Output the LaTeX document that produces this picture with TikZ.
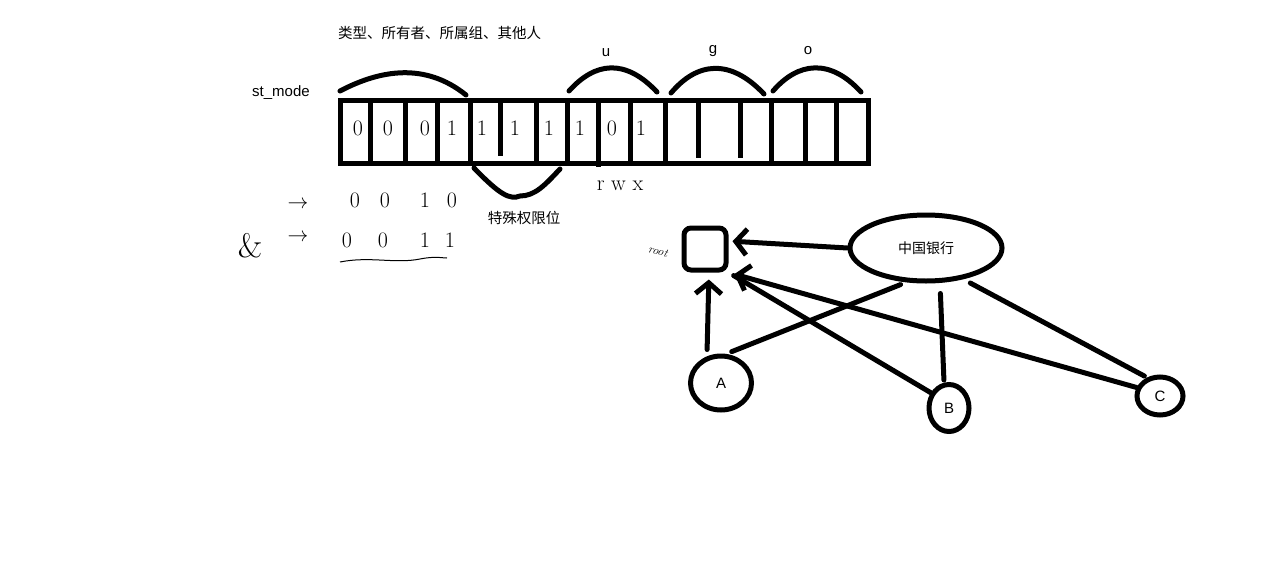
\documentclass[tikz,border=0pt]{standalone}
\usepackage{fontspec}
\setsansfont{Liberation Sans}
\newfontfamily\cjk{Noto Sans CJK SC}
\usetikzlibrary{shapes.geometric,arrows.meta,calc}
\begin{document}
\begin{tikzpicture}[x=1pt,y=-1pt,
  thickline/.style={line width=5pt,line cap=round},
  barline/.style={line width=5pt},
  brace/.style={line width=5pt,line cap=round},
  lbl/.style={font=\sffamily\fontsize{15}{15}\selectfont,inner sep=0pt},
  cjklbl/.style={font=\cjk\fontsize{14.5}{14.5}\selectfont,inner sep=0pt},
  hand/.style={font=\fontsize{22}{22}\selectfont,inner sep=0pt},
  arr/.style={line width=5pt,line cap=round,-{Straight Barb[length=11pt,width=26pt,line width=5pt]}},
  circ/.style={ellipse,draw,line width=5pt,inner sep=0pt,font=\sffamily\fontsize{15}{15}\selectfont},
]
\useasboundingbox (0,0) rectangle (1266,570);
\fill[white] (0,0) rectangle (1266,570);

% labels
\node[cjklbl,anchor=west] (title) at (338,33) {类型、所有者、所属组、其他人};
\node[lbl,anchor=west] (stmode) at (252,93) {st\_mode};
\node[lbl] (u) at (606,53) {u};
\node[lbl] (g) at (713,51) {g};
\node[lbl] (o) at (808,51) {o};

% bar
\draw[barline] (340,100) rectangle (868,163);
\foreach \x in {370,405,437,470,536,567,665,771,805,836}
  \draw[barline] (\x,100) -- (\x,163);
\draw[barline] (500,100) -- (500,156);
\draw[barline] (598,100) -- (598,167);
\draw[barline] (630,100) -- (630,165);
\draw[barline] (698,100) -- (698,158);
\draw[barline] (740,100) -- (740,158);

% arcs
\draw[brace] (340,91) .. controls (380,70) and (425,62) .. (466,95);
\draw[brace] (569,91) .. controls (595,62) and (625,58) .. (657,92);
\draw[brace] (671,93) .. controls (697,62) and (730,58) .. (764,94);
\draw[brace] (773,91) .. controls (798,62) and (830,58) .. (861,92);
\draw[brace] (474,168) .. controls (500,195) and (510,200) .. (520,196) .. controls (535,196) and (545,185) .. (560,169);
\node[cjklbl] (special) at (524,218) {特殊权限位};

% handwritten digits in cells
\foreach \x/\d in {358/0,388/0,425/0,452/1,482/1,515/1,549/1,580/1,612/0,641/1}
  \node[hand] at (\x,128) {\d};
\node[hand] (rwx) at (620,186) {r w x};

% handwritten rows
\node[hand] (ar1) at (298,205) {$\rightarrow$};
\node[hand] (ar2) at (298,238) {$\rightarrow$};
\node[hand] (amp) at (250,246) {\fontsize{34}{34}\selectfont\&};
\foreach \x/\d in {355/0,385/0,425/1,452/0}
  \node[hand] at (\x,200) {\d};
\foreach \x/\d in {347/0,383/0,425/1,450/1}
  \node[hand] at (\x,240) {\d};
\draw[line width=1pt] (340,262) .. controls (370,256) and (395,264) .. (420,259) .. controls (435,256) and (442,258) .. (447,258);

% graph
\node[draw,line width=5pt,rounded corners=7pt,minimum size=42pt,inner sep=0pt] (root) at (705,249) {};
\node[font=\fontsize{12}{12}\selectfont\itshape,rotate=-15,inner sep=0pt] (rootlbl) at (658,251) {root};
\node[circ,minimum width=152pt,minimum height=66pt,font=\cjk\fontsize{14}{14}\selectfont] (bank) at (926,248) {中国银行};
\node[circ,minimum width=61pt,minimum height=54pt] (A) at (721,383) {A};
\node[circ,minimum width=40pt,minimum height=47pt] (B) at (949,408) {B};
\node[circ,minimum width=46pt,minimum height=38pt] (C) at (1160,396) {C};

\draw[arr,shorten >=4pt] (bank.west) -- ([yshift=8pt]root.east);
\draw[arr,shorten <=4pt,shorten >=7pt] ([xshift=-14pt]A.north) -- ([xshift=4pt]root.south);
\draw[thickline,shorten <=6pt,shorten >=6pt] (A.80) -- (bank.240);
\draw[thickline,shorten <=10pt,shorten >=2pt] ([xshift=14pt]bank.south) -- ([xshift=-5pt]B.north);
\draw[thickline,shorten <=8pt,shorten >=3pt] (bank.320) -- (C.125);
\draw[thickline,shorten >=6pt] (B.140) -- (root.south east);
\draw[arr,shorten >=6pt] (C.160) -- (root.south east);
\end{tikzpicture}
\end{document}
